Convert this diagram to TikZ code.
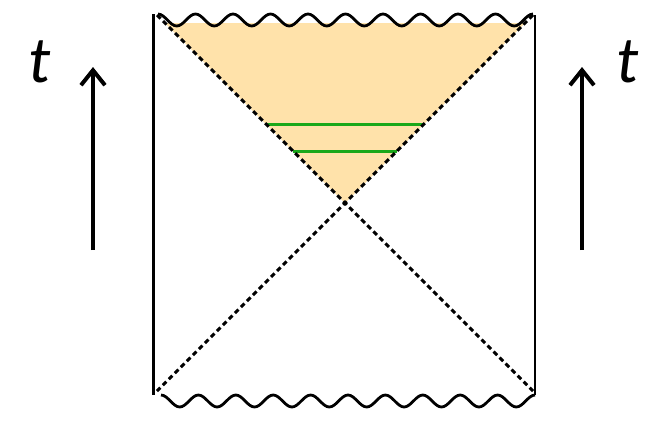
\documentclass[tikz,border=0pt]{standalone}
\usepackage{fontspec}
\setmainfont{Carlito}
\usetikzlibrary{arrows.meta}
\definecolor{fillorange}{HTML}{FFE2AA}
\definecolor{hgreen}{HTML}{1AA81A}
\tikzset{
  edgeline/.style={line width=2.8pt, black},
  diagline/.style={line width=3pt, black, dash pattern=on 5pt off 3.5pt},
  waveline/.style={line width=2.8pt, black, line join=round},
  sliceline/.style={line width=3pt, hgreen},
  timearrow/.style={line width=4pt, -{Straight Barb[length=15pt,width=24pt]}},
  tlabel/.style={font=\fontsize{66}{66}\selectfont\itshape, inner sep=0pt}
}
\begin{document}
\begin{tikzpicture}[x=1pt,y=-1pt]
\useasboundingbox (0,0) rectangle (671,421);
% corners and centre
\coordinate (TL) at (157,15);
\coordinate (TR) at (533,15);
\coordinate (BL) at (157,391);
\coordinate (BR) at (533,391);
\coordinate (C) at (345,203);
% shaded future region
\fill[fillorange] (165,23) -- (525,23) -- (C) -- cycle;
% green slices
\coordinate (g1a) at (266,124); \coordinate (g1b) at (424,124);
\coordinate (g2a) at (293,151); \coordinate (g2b) at (397,151);
\draw[sliceline] (g1a) -- (g1b);
\draw[sliceline] (g2a) -- (g2b);
% vertical boundaries
\coordinate (LT) at (153.5,14); \coordinate (LB) at (153.5,395);
\coordinate (RT) at (535,15); \coordinate (RB) at (535,395);
\draw[edgeline] (LT) -- (LB);
\draw[edgeline] (RT) -- (RB);
% horizons
\draw[diagline] (TL) -- (BR);
\draw[diagline] (TR) -- (BL);
% singularities
\coordinate (wt) at (158,14);
\coordinate (wb) at (161,395);
\draw[waveline] (wt) foreach \i in {1,...,10} { cos ++(9.375,6) sin ++(9.375,6) cos ++(9.375,-6) sin ++(9.375,-6) };
\draw[waveline] (wb) foreach \i in {1,...,10} { cos ++(9.35,6) sin ++(9.35,6) cos ++(9.35,-6) sin ++(9.35,-6) };
% time arrows
\coordinate (a1s) at (93,250); \coordinate (a1e) at (93,67);
\coordinate (a2s) at (582,250); \coordinate (a2e) at (582,67);
\draw[timearrow] (a1s) -- (a1e);
\draw[timearrow] (a2s) -- (a2e);
\node[tlabel] (t1) at (40,62) {t};
\node[tlabel] (t2) at (628,62) {t};
\end{tikzpicture}
\end{document}
